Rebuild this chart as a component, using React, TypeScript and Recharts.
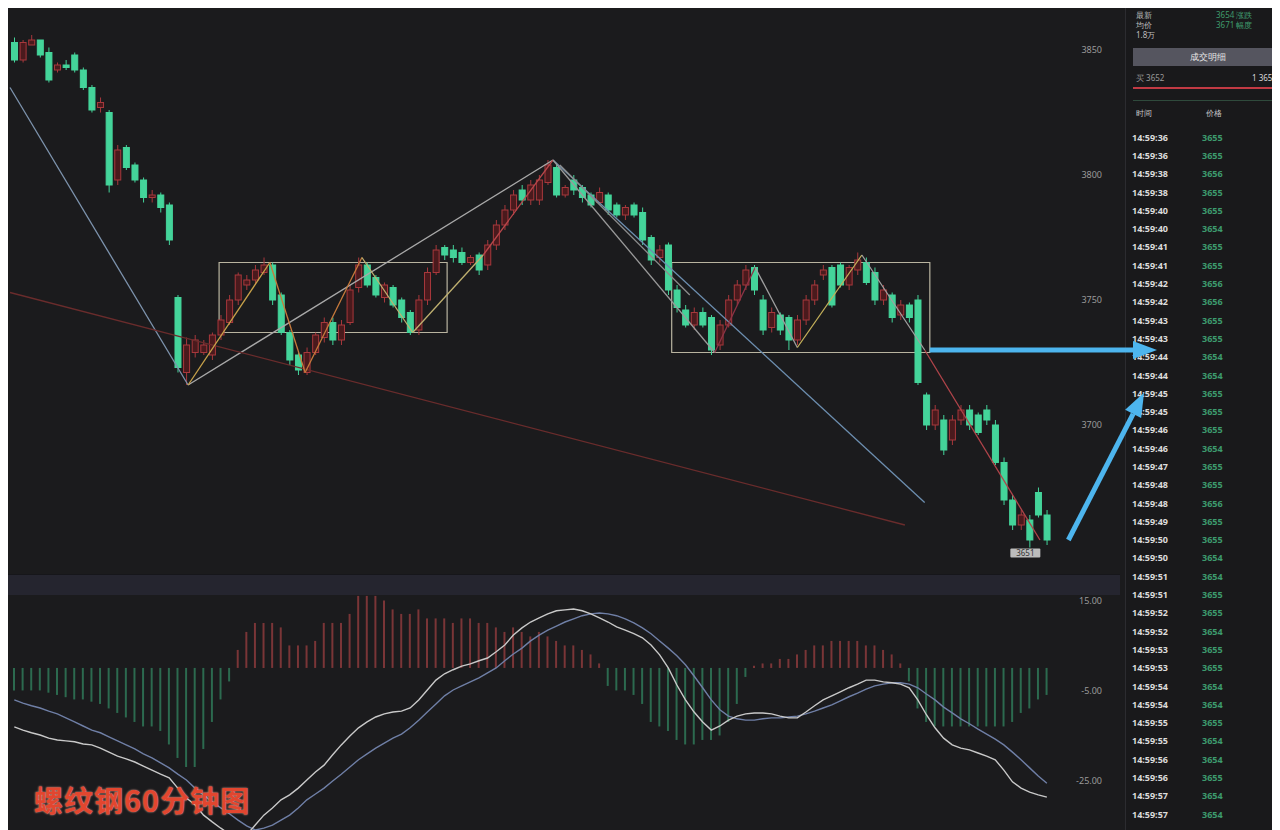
import React from 'react'
import {
  ComposedChart, Bar, Line, XAxis, YAxis, ReferenceLine, ReferenceArea, ReferenceDot, Cell,
} from 'recharts'

// K线 (60分钟) 数据
const opens = [
  3853, 3846, 3852, 3854, 3849, 3842, 3844, 3848, 3842, 3835,
  3827, 3825, 3798, 3811, 3804, 3798, 3791, 3792, 3788, 3751,
  3721, 3729, 3729, 3728, 3736, 3741, 3750, 3756, 3758, 3761,
  3764, 3752, 3737, 3728, 3721, 3729, 3735, 3741, 3734, 3741,
  3755, 3764, 3759, 3751, 3755, 3750, 3745, 3738, 3750, 3761,
  3771, 3770, 3769, 3765, 3768, 3764, 3772, 3780, 3786, 3794,
  3790, 3790, 3797, 3803, 3792, 3798, 3795, 3792, 3789, 3792,
  3788, 3784, 3788, 3785, 3775, 3767, 3772, 3754, 3746, 3740,
  3745, 3743, 3732, 3740, 3750, 3756, 3763, 3750, 3739, 3744,
  3743, 3734, 3742, 3750, 3760, 3763, 3764, 3756, 3762, 3765,
  3761, 3750, 3752, 3744, 3748, 3750, 3712, 3700, 3702, 3694,
  3702, 3706, 3704, 3706, 3700, 3685, 3670, 3660, 3662, 3673,
  3664,
]
const closes = [
  3846, 3853, 3854, 3848, 3838, 3844, 3843, 3842, 3835, 3826,
  3829, 3796, 3810, 3803, 3798, 3791, 3792, 3787, 3774, 3723,
  3732, 3734, 3732, 3736, 3742, 3750, 3760, 3758, 3762, 3764,
  3750, 3737, 3726, 3722, 3729, 3736, 3741, 3734, 3740, 3754,
  3764, 3756, 3752, 3756, 3748, 3743, 3737, 3750, 3761, 3770,
  3768, 3767, 3765, 3767, 3762, 3772, 3780, 3786, 3792, 3790,
  3796, 3798, 3804, 3792, 3795, 3794, 3791, 3788, 3793, 3786,
  3784, 3787, 3784, 3774, 3766, 3770, 3754, 3747, 3740, 3745,
  3740, 3730, 3740, 3750, 3756, 3762, 3754, 3738, 3745, 3738,
  3734, 3742, 3750, 3756, 3762, 3748, 3756, 3763, 3766, 3757,
  3750, 3754, 3743, 3748, 3743, 3717, 3700, 3706, 3690, 3702,
  3706, 3700, 3697, 3702, 3685, 3670, 3660, 3664, 3654, 3664,
  3654,
]
const highs = [
  3855, 3854, 3856, 3854, 3851, 3845, 3846, 3849, 3843, 3836,
  3831, 3826, 3812, 3812, 3805, 3799, 3794, 3793, 3789, 3752,
  3735, 3736, 3734, 3737, 3744, 3752, 3761, 3760, 3764, 3767,
  3765, 3753, 3738, 3729, 3731, 3737, 3743, 3743, 3742, 3756,
  3767, 3765, 3760, 3757, 3756, 3751, 3746, 3752, 3763, 3772,
  3772, 3772, 3771, 3768, 3769, 3774, 3782, 3788, 3794, 3796,
  3798, 3800, 3806, 3804, 3796, 3800, 3796, 3793, 3795, 3793,
  3789, 3788, 3789, 3787, 3776, 3772, 3773, 3756, 3748, 3747,
  3747, 3744, 3742, 3752, 3758, 3764, 3764, 3752, 3747, 3745,
  3744, 3744, 3752, 3758, 3764, 3764, 3765, 3764, 3769, 3767,
  3763, 3756, 3753, 3750, 3749, 3752, 3713, 3708, 3704, 3704,
  3708, 3708, 3705, 3708, 3702, 3687, 3672, 3666, 3664, 3675,
  3666,
]
const lows = [
  3845, 3845, 3852, 3847, 3837, 3841, 3842, 3841, 3834, 3825,
  3825, 3793, 3796, 3802, 3797, 3789, 3789, 3785, 3772, 3721,
  3716, 3727, 3728, 3726, 3734, 3740, 3748, 3754, 3756, 3760,
  3748, 3736, 3724, 3720, 3720, 3728, 3733, 3732, 3732, 3740,
  3753, 3755, 3751, 3749, 3747, 3741, 3736, 3736, 3748, 3760,
  3766, 3765, 3764, 3764, 3760, 3762, 3770, 3778, 3784, 3788,
  3788, 3788, 3796, 3791, 3791, 3792, 3789, 3787, 3788, 3784,
  3783, 3782, 3783, 3772, 3764, 3765, 3752, 3745, 3739, 3738,
  3739, 3728, 3730, 3739, 3748, 3754, 3752, 3736, 3737, 3736,
  3730, 3732, 3740, 3748, 3758, 3747, 3755, 3754, 3760, 3756,
  3748, 3748, 3741, 3742, 3741, 3716, 3698, 3698, 3688, 3692,
  3700, 3698, 3696, 3700, 3684, 3668, 3658, 3658, 3651, 3663,
  3652,
]

// MACD
const macdHist = [
  -5, -5, -5, -5, -5.5, -6, -6.5, -7, -7, -7.5,
  -8, -9, -10, -11, -12, -13, -13, -14, -17, -20,
  -22, -22, -18, -12, -7, -3, 4, 8, 10, 10,
  10, 9, 5, 5, 5, 6, 10, 10, 10, 12,
  16, 16, 16, 15, 13, 12, 12, 13, 11, 11,
  11, 10, 11, 11, 10, 10, 9, 8, 9, 8,
  7, 8, 7, 6, 5, 5, 4, 3, 1, -4,
  -5, -5, -6, -8, -12, -13, -14, -16, -17, -17,
  -16, -16, -15, -12, -8, -2, 0.5, 1, 1, 2,
  2, 3, 4, 5, 5, 6, 6, 6, 6, 5,
  5, 4, 3, 1, -3, -9, -12, -13, -13, -13,
  -13, -13, -13, -13, -13, -13, -12, -10, -9, -7,
  -6,
]
const difLine = [
  -13.1, -13.8, -14.4, -14.9, -15.6, -16, -16.2, -16.4, -16.9, -17.1,
  -17.8, -18.7, -19.6, -20.2, -20.9, -21.8, -22.7, -23.6, -24.4, -26.7,
  -28.9, -30.4, -32.7, -34.2, -35.6, -36.9, -37.8, -37.1, -34.9, -32.7,
  -31.1, -29.3, -28.2, -26.7, -24.9, -23.1, -21.6, -19.3, -17.1, -15.1,
  -13.3, -12, -10.9, -10.2, -9.8, -9.6, -8.9, -7.1, -4.9, -2.7,
  -1.3, -0.4, 0.4, 0.9, 1.6, 2.2, 3.6, 5.1, 7.3, 8.9,
  10.2, 11.1, 12, 12.7, 12.9, 13.1, 12.7, 12, 11.1, 10.2,
  9.1, 8.4, 7.6, 6.7, 5.1, 2.9, 0, -3.8, -7.1, -9.8,
  -12, -13.8, -12.9, -11.6, -10.7, -10.2, -10, -10, -10.2, -10.7,
  -11.1, -11.1, -9.8, -8.4, -7.1, -6.2, -5.3, -4.4, -3.6, -2.7,
  -2.7, -3.1, -3.3, -3.6, -4.4, -7.1, -10.4, -13.3, -15.6, -17.1,
  -17.8, -18.2, -18.9, -19.6, -20.4, -22.7, -25.3, -26.7, -27.6, -28.2,
  -28.7,
]
const deaLine = [
  -7.1, -7.8, -8.4, -8.9, -9.6, -10.2, -11.1, -12, -12.9, -13.8,
  -14.4, -15.3, -16.2, -17.1, -18, -19.1, -20, -21.1, -22.2, -23.6,
  -24.9, -26.7, -28.2, -29.8, -31.1, -32.4, -33.8, -35.1, -36, -35.6,
  -34.9, -33.8, -32.7, -31.1, -29.3, -28, -26.7, -25.1, -23.6, -22,
  -20.4, -19.1, -17.8, -16.7, -15.6, -14.7, -13.3, -11.6, -9.8, -8,
  -6.2, -4.9, -4, -3.1, -2.2, -1.1, 0, 1.6, 3.1, 4.4,
  6, 7.3, 8.4, 9.3, 10.2, 10.9, 11.6, 12, 12.2, 12,
  11.6, 10.9, 10, 8.9, 7.6, 6, 4.4, 2.7, 0.7, -1.8,
  -4.4, -7.1, -9.3, -10.7, -11.3, -11.6, -11.6, -11.3, -11.1, -11.1,
  -10.9, -10.7, -10.2, -9.6, -8.9, -8.2, -7.3, -6.4, -5.6, -4.7,
  -4, -3.6, -3.3, -3.3, -3.6, -4.4, -5.8, -7.1, -8.7, -10,
  -11.3, -12.4, -13.6, -14.7, -15.8, -17.1, -18.7, -20.4, -22.2, -24,
  -25.6,
]

const priceTicks = [3700, 3750, 3800, 3850]
const macdTicks = [15, -5, -25]

// 画线: [x(K线序号), 价格]
const trendLines: [number, number][][] = [
  [[-0.5, 3835], [20.2, 3716]],
  [[20.2, 3716], [62.6, 3806]],
  [[62.6, 3806], [105.8, 3669]],
  [[63.4, 3804], [78.5, 3752]],
  [[-0.5, 3753], [103.5, 3660]],
]
const trendColors = ['#7d93ad', '#a9a9a9', '#6d8fb0', '#8c8c8c', '#6a2c2c']

const zigzag: [number, number][] = [
  [20.2, 3716], [29.7, 3765], [33.8, 3721], [40.4, 3767], [46.3, 3737],
  [54.5, 3768], [62.6, 3806], [81.4, 3729], [86.1, 3763], [91.0, 3731],
  [98.5, 3768], [105.8, 3730], [119.2, 3654],
]
const zigzagColors = [
  '#c8a24a', '#c77a3c', '#c77a3c', '#bfb070', '#bfb070', '#b8464a',
  '#9a9a9a', '#8e3346', '#a0a0a0', '#c4b05a', '#a0a0a0', '#b0444a',
]

// 箱体: x1, x2, 上沿, 下沿
const boxes = [
  [23.8, 50.3, 3765, 3737],
  [76.4, 106.4, 3765, 3729],
]

const arrows: [number, number][][] = [
  [[106.4, 3730], [132.8, 3730]],
  [[122.5, 3654], [131.3, 3713]],
]

// 最低点标注
const lowMark = { t: 117.5, price: 3651, text: '3651' }

// 右侧成交明细
const tickTimes = [
  '14:59:36', '14:59:36', '14:59:38', '14:59:38', '14:59:40', '14:59:40', '14:59:41', '14:59:41',
  '14:59:42', '14:59:42', '14:59:43', '14:59:43', '14:59:44', '14:59:44', '14:59:45', '14:59:45',
  '14:59:46', '14:59:46', '14:59:47', '14:59:48', '14:59:48', '14:59:49', '14:59:50', '14:59:50',
  '14:59:51', '14:59:51', '14:59:52', '14:59:52', '14:59:53', '14:59:53', '14:59:54', '14:59:54',
  '14:59:55', '14:59:55', '14:59:56', '14:59:56', '14:59:57', '14:59:57',
]
const tickPrices = [
  '3655', '3655', '3656', '3655', '3655', '3654', '3655', '3655',
  '3656', '3656', '3655', '3655', '3654', '3654', '3655', '3655',
  '3655', '3654', '3655', '3655', '3656', '3655', '3655', '3654',
  '3654', '3655', '3655', '3654', '3655', '3655', '3654', '3654',
  '3655', '3654', '3654', '3655', '3654', '3654',
]

const BG = '#1b1b1d'
const UP = '#a8383c'
const UP_FILL = '#4a1a1d'
const DOWN = '#44d49a'
const CYAN = '#4db5ee'
const X_DOMAIN: [number, number] = [-0.5, 128.5]

function Candle(props: any) {
  const { x, y, width, height, payload } = props
  const { open, close, high, low } = payload
  const top = Math.min(y, y + height)
  const h = Math.abs(height)
  const per = h / Math.max(high - low, 0.0001)
  const bodyTop = top + (high - Math.max(open, close)) * per
  const bodyH = Math.max(Math.abs(open - close) * per, 1.5)
  const cx = x + width / 2
  const up = close >= open
  const c = up ? UP : DOWN
  return (
    <g>
      <line x1={cx} x2={cx} y1={top} y2={top + h} stroke={c} strokeWidth={1} />
      <rect x={x + 0.5} y={bodyTop} width={width - 1} height={bodyH}
        fill={up ? UP_FILL : DOWN} stroke={c} strokeWidth={1} />
    </g>
  )
}

function Arrow(props: any) {
  const { x1, y1, x2, y2 } = props
  const ang = Math.atan2(y2 - y1, x2 - x1)
  const head = 24
  const half = 9
  const bx = x2 - head * Math.cos(ang)
  const by = y2 - head * Math.sin(ang)
  const nx = -Math.sin(ang)
  const ny = Math.cos(ang)
  return (
    <g>
      <line x1={x1} y1={y1} x2={bx} y2={by} stroke={CYAN} strokeWidth={5} />
      <polygon
        points={`${x2},${y2} ${bx + nx * half},${by + ny * half} ${bx - nx * half},${by - ny * half}`}
        fill={CYAN}
      />
    </g>
  )
}

function LowTag(props: any) {
  const { cx, cy } = props
  return (
    <g>
      <rect x={cx - 15} y={cy + 1} width={30} height={9} rx={1} fill="#d8d8d8" opacity={0.85} />
      <text x={cx} y={cy + 8.5} textAnchor="middle" fontSize={8} fill="#333">{lowMark.text}</text>
    </g>
  )
}

export default function App() {
  const candles = opens.map((o, i) => ({
    t: i, open: o, close: closes[i], high: highs[i], low: lows[i], range: [lows[i], highs[i]],
  }))
  const macd = macdHist.map((h, i) => ({ t: i, hist: h, dif: difLine[i], dea: deaLine[i] }))

  const tickStyle = { fill: '#9a9a9a', fontSize: 9, fontFamily: 'Noto Sans, sans-serif' }

  return (
    <div style={{ position: 'relative', width: 1272, height: 822, background: BG, overflow: 'hidden', fontFamily: 'Noto Sans, sans-serif' }}>
      {/* 右侧面板 */}
      <div style={{ position: 'absolute', left: 1117, top: 0, width: 155, height: 822, background: '#19191b', borderLeft: '1px solid #2c2c30' }}>
        <div style={{ position: 'absolute', left: 10, top: 2, fontSize: 8, color: '#bdbdbd', lineHeight: '10px' }}>
          <div>最新</div><div>均价</div><div>1.8万</div>
        </div>
        <div style={{ position: 'absolute', left: 90, top: 2, fontSize: 8, color: '#3f9a6c', lineHeight: '10px' }}>
          <div>3654 涨跌</div><div>3671 幅度</div>
        </div>
        <div style={{ position: 'absolute', left: 7, top: 40, width: 150, height: 18, background: '#55555f', color: '#e6e6e6', fontSize: 9, textAlign: 'center', lineHeight: '18px' }}>
          成交明细
        </div>
        <div style={{ position: 'absolute', left: 10, top: 64, fontSize: 8, color: '#9a9a9a' }}>买 3652</div>
        <div style={{ position: 'absolute', right: 4, top: 64, fontSize: 8, color: '#d8d8d8' }}>1 3654</div>
        <div style={{ position: 'absolute', left: 7, top: 79, width: 150, height: 2, background: '#c23a44' }} />
        <div style={{ position: 'absolute', left: 7, top: 92, width: 150, height: 1, background: '#2f4a3c' }} />
        <div style={{ position: 'absolute', left: 10, top: 99, fontSize: 8, color: '#c8c8c8' }}>时间</div>
        <div style={{ position: 'absolute', left: 80, top: 99, fontSize: 8, color: '#c8c8c8' }}>价格</div>
        <div style={{ position: 'absolute', left: 6, top: 120 }}>
          {tickTimes.map((t, i) => (
            <div key={i} style={{ height: 18.3, display: 'flex', alignItems: 'center', fontSize: 9, fontWeight: 700 }}>
              <span style={{ width: 70, color: '#dcdcdc' }}>{t}</span>
              <span style={{ color: '#3d9b6e' }}>{tickPrices[i]}</span>
            </div>
          ))}
        </div>
      </div>

      {/* 分隔时间轴 */}
      <div style={{ position: 'absolute', left: 0, top: 566, width: 1112, height: 20, background: '#25252f', borderTop: '1px solid #16161a' }} />

      {/* 主图 K线 */}
      <div style={{ position: 'absolute', left: 0, top: 0, zIndex: 2 }}>
        <ComposedChart width={1160} height={562} data={candles} margin={{ top: 2, right: 48, left: 2, bottom: 0 }} style={{ overflow: 'visible' }}>
          <XAxis dataKey="t" type="number" domain={X_DOMAIN} hide allowDataOverflow />
          <YAxis orientation="right" mirror width={40} domain={[3642, 3866]} ticks={priceTicks}
            allowDataOverflow axisLine={false} tickLine={false} tickMargin={12} tick={tickStyle} />
          <Bar dataKey="range" barSize={7} shape={<Candle />} isAnimationActive={false} />
          {boxes.map((b, i) => (
            <ReferenceArea key={'b' + i} x1={b[0]} x2={b[1]} y1={b[2]} y2={b[3]}
              fill="none" stroke="#b9b4a0" strokeWidth={1.2} ifOverflow="visible" />
          ))}
          {trendLines.map((s, i) => (
            <ReferenceLine key={'t' + i} segment={[{ x: s[0][0], y: s[0][1] }, { x: s[1][0], y: s[1][1] }]}
              stroke={trendColors[i]} strokeWidth={1.3} ifOverflow="visible" />
          ))}
          {zigzag.slice(1).map((p, i) => (
            <ReferenceLine key={'z' + i} segment={[{ x: zigzag[i][0], y: zigzag[i][1] }, { x: p[0], y: p[1] }]}
              stroke={zigzagColors[i]} strokeWidth={1.3} ifOverflow="visible" />
          ))}
          <ReferenceDot x={lowMark.t} y={lowMark.price} r={0} ifOverflow="visible" shape={(p: any) => <LowTag {...p} />} />
          {arrows.map((a, i) => (
            <ReferenceLine key={'a' + i} segment={[{ x: a[0][0], y: a[0][1] }, { x: a[1][0], y: a[1][1] }]}
              stroke={CYAN} ifOverflow="visible" shape={(p: any) => <Arrow {...p} />} />
          ))}
        </ComposedChart>
      </div>

      {/* MACD */}
      <div style={{ position: 'absolute', left: 0, top: 587, zIndex: 1 }}>
        <ComposedChart width={1152} height={235} data={macd} margin={{ top: 0, right: 40, left: 2, bottom: 0 }}>
          <XAxis dataKey="t" type="number" domain={X_DOMAIN} hide allowDataOverflow />
          <YAxis orientation="right" mirror width={40} domain={[-36, 16.2]} ticks={macdTicks}
            allowDataOverflow axisLine={false} tickLine={false} tickMargin={12} tick={tickStyle}
            tickFormatter={(v: number) => v.toFixed(2)} />
          <Bar dataKey="hist" barSize={2} isAnimationActive={false}>
            {macd.map((d, i) => (
              <Cell key={i} fill={d.hist >= 0 ? '#7a3537' : '#2c6a4f'} />
            ))}
          </Bar>
          <Line dataKey="dea" type="linear" stroke="#6f7fa6" strokeWidth={1.4} dot={false} isAnimationActive={false} />
          <Line dataKey="dif" type="linear" stroke="#c9c9c9" strokeWidth={1.4} dot={false} isAnimationActive={false} />
        </ComposedChart>
      </div>

      <div style={{ position: 'absolute', left: 26, top: 770, zIndex: 3, fontFamily: '"Noto Sans CJK SC", sans-serif', fontWeight: 700, fontSize: 29, letterSpacing: 1, color: '#e2462f', textShadow: '0 0 2px #ffb3a3' }}>
        螺纹钢60分钟图
      </div>
    </div>
  )
}
